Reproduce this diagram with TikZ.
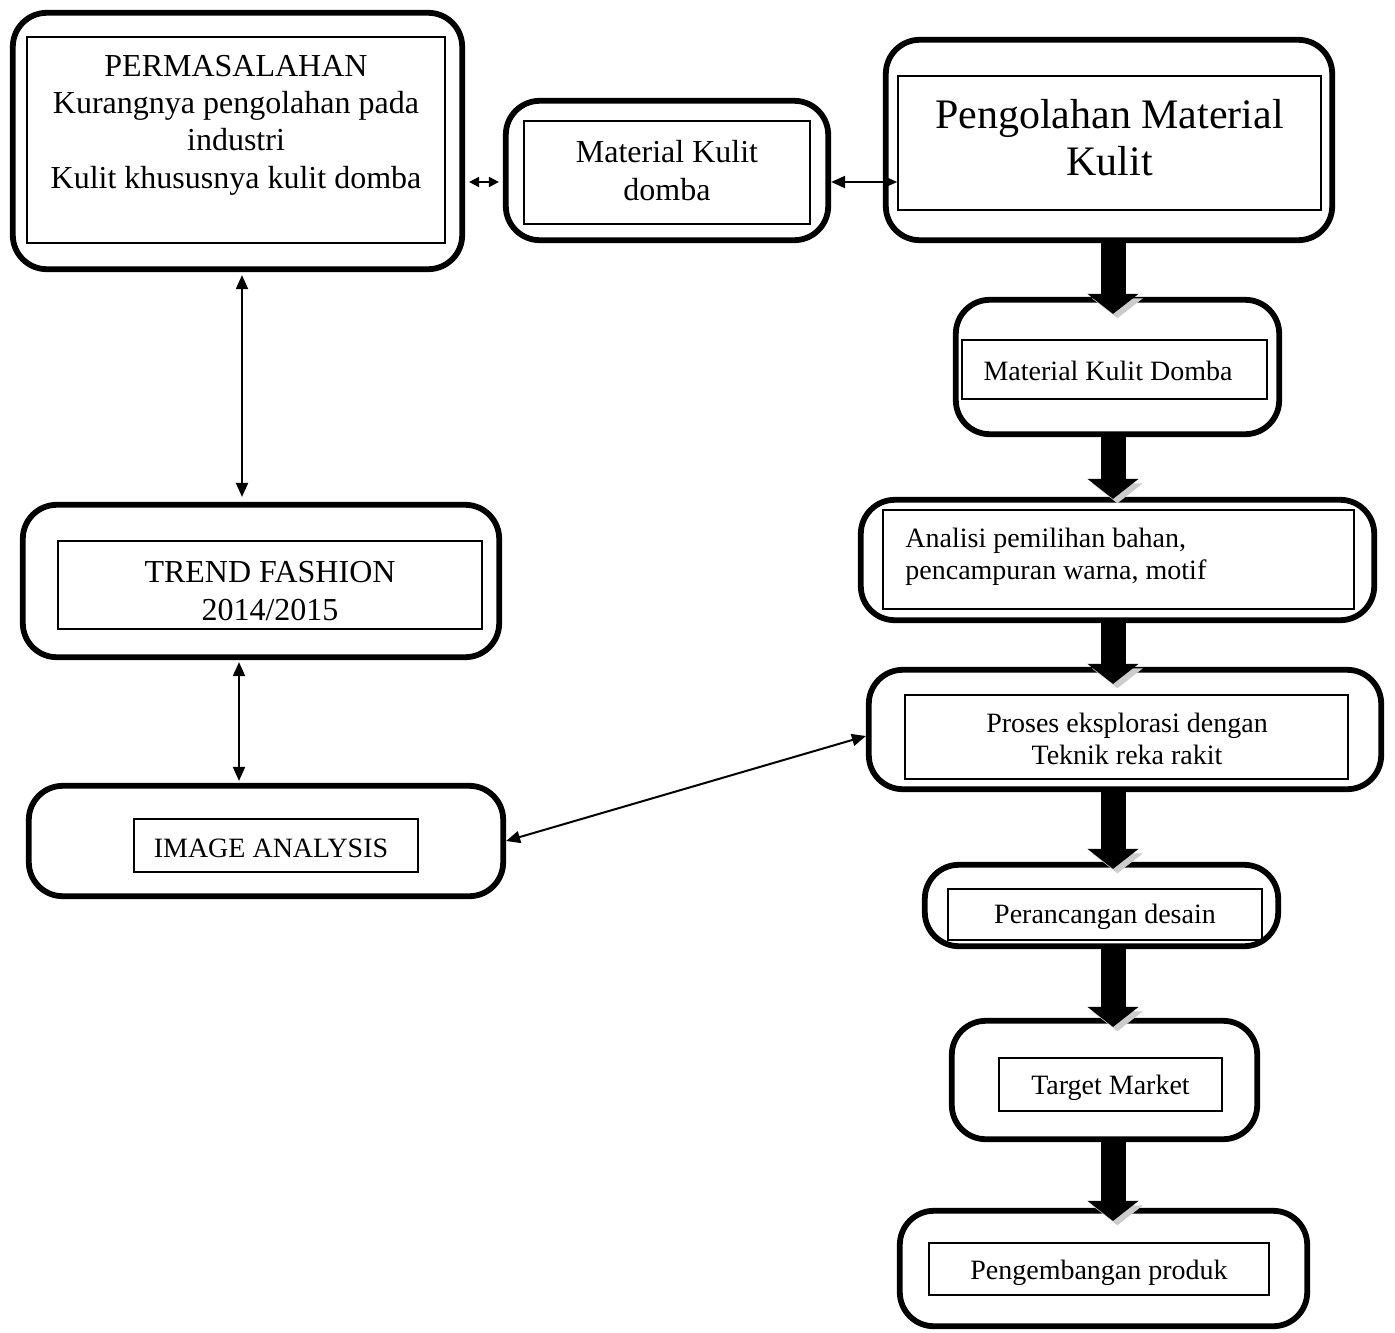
\documentclass[tikz,border=0pt]{standalone}
\usepackage{fontspec}
\setmainfont{Liberation Serif}
\usetikzlibrary{arrows.meta}

\tikzset{
  outerbox/.style={draw, line width=2.9pt, rounded corners=17pt},
  innerbox/.style={draw, line width=0.8pt, inner sep=0pt},
  bigtxt/.style={font=\fontsize{16}{18.7}\selectfont, align=center},
  smalltxt/.style={font=\fontsize{14}{16}\selectfont, align=center},
  link/.style={line width=1pt, {Triangle[length=7pt,width=6pt]}-{Triangle[length=7pt,width=6pt]}},
  blockarrow/.style={line width=12.5pt, -{Triangle[length=10pt,width=25pt]},
    preaction={draw=gray!40, transform canvas={shift={(2.2pt,-2.2pt)}}}}
}

\begin{document}
\begin{tikzpicture}[x=0.5pt,y=-0.5pt]
\useasboundingbox (0,0) rectangle (1395,1332);

% left column
\node[outerbox, minimum width=224.7pt, minimum height=128.2pt] (perm) at (237.5,141) {};
\node[innerbox, minimum width=209pt, minimum height=103pt] (permin) at (236,140) {};
\node[bigtxt] (permtxt) at (236,125) {PERMASALAHAN\\Kurangnya pengolahan pada\\industri\\Kulit khususnya kulit domba};

\node[outerbox, minimum width=238.2pt, minimum height=76.2pt] (trend) at (261,581) {};
\node[innerbox, minimum width=212pt, minimum height=44pt] (trendin) at (270,585) {};
\node[bigtxt] (trendtxt) at (270,591) {TREND FASHION\\2014/2015};

\node[outerbox, minimum width=237.2pt, minimum height=55.2pt] (image) at (266,841) {};
\node[innerbox, minimum width=142pt, minimum height=26.5pt] (imagein) at (276,845.5) {};
\node[smalltxt] (imagetxt) at (271,848) {IMAGE ANALYSIS};

% top middle
\node[outerbox, minimum width=161.2pt, minimum height=69.7pt] (mat1) at (667,170.5) {};
\node[innerbox, minimum width=143pt, minimum height=51.5pt] (mat1in) at (667,172.5) {};
\node[bigtxt] (mat1txt) at (667,170.5) {Material Kulit\\domba};

% right column
\node[outerbox, minimum width=223.2pt, minimum height=100.2pt] (peng) at (1109,140) {};
\node[innerbox, minimum width=211.5pt, minimum height=67pt] (pengin) at (1109.5,143) {};
\node[font=\fontsize{21}{23.5}\selectfont, align=center] (pengtxt) at (1109.5,138) {Pengolahan Material\\Kulit};

\node[outerbox, minimum width=161.7pt, minimum height=67.2pt] (mat2) at (1117.5,367) {};
\node[innerbox, minimum width=152.5pt, minimum height=29.5pt] (mat2in) at (1114.5,369.5) {};
\node[smalltxt] (mat2txt) at (1108,371) {Material Kulit Domba};

\node[outerbox, minimum width=256.7pt, minimum height=60.2pt] (analisi) at (1117.5,560) {};
\node[innerbox, minimum width=235.5pt, minimum height=49.5pt] (analisiin) at (1118.5,559.5) {};
\node[smalltxt, align=left, anchor=west, inner sep=0pt] (analisitxt) at (905,557) {Analisi pemilihan bahan,\\pencampuran warna, motif};

\node[outerbox, minimum width=256.2pt, minimum height=59.7pt] (proses) at (1125,729.5) {};
\node[innerbox, minimum width=221.5pt, minimum height=42pt] (prosesin) at (1126.5,737) {};
\node[smalltxt] (prosestxt) at (1127,739) {Proses eksplorasi dengan\\Teknik reka rakit};

\node[outerbox, minimum width=176.7pt, minimum height=40.7pt] (peranc) at (1101.5,905.5) {};
\node[innerbox, minimum width=157pt, minimum height=25.5pt] (perancin) at (1105,914.5) {};
\node[smalltxt] (peranctxt) at (1105,917) {Perancangan desain};

\node[outerbox, minimum width=152.7pt, minimum height=59.2pt] (target) at (1104.5,1080) {};
\node[innerbox, minimum width=111.5pt, minimum height=26.5pt] (targetin) at (1110.5,1084.5) {};
\node[smalltxt] (targettxt) at (1110.5,1087.5) {Target Market};

\node[outerbox, minimum width=203.7pt, minimum height=57.7pt] (pengem) at (1103.5,1268.5) {};
\node[innerbox, minimum width=170pt, minimum height=26pt] (pengemin) at (1099,1269) {};
\node[smalltxt] (pengemtxt) at (1099,1272.5) {Pengembangan produk};

% thin links
\draw[line width=1pt, {Triangle[length=5pt,width=5pt]}-{Triangle[length=5pt,width=5pt]}, shorten <=2pt, shorten >=2pt]
  ([yshift=-20.5pt]perm.east) -- ([yshift=-5.75pt]mat1.west);
\draw[link] ([yshift=-5.75pt]mat1.east) -- ([yshift=-19.5pt]pengin.west);
\coordinate (permfoot) at ([xshift=2.25pt]perm.south);
\draw[link, shorten <=1.5pt, shorten >=2.5pt] (permfoot) -- (permfoot |- trend.north);
\coordinate (trendfoot) at ([xshift=-11pt]trend.south);
\draw[link, shorten <=1pt, shorten >=1pt] (trendfoot) -- (trendfoot |- image.north);
\draw[link] (image.east) -- ([yshift=-3.25pt]proses.west);

% block arrows
\coordinate (spine) at (1113,0);
\draw[blockarrow] (peng.south -| spine) -- ([yshift=-8.5pt]mat2.north -| spine);
\draw[blockarrow] (mat2.south -| spine) -- ([yshift=-1pt]analisi.north -| spine);
\draw[blockarrow] (analisi.south -| spine) -- ([yshift=-8.5pt]proses.north -| spine);
\draw[blockarrow] (proses.south -| spine) -- ([yshift=-3.5pt]peranc.north -| spine);
\draw[blockarrow] (peranc.south -| spine) -- ([yshift=-4.5pt]target.north -| spine);
\draw[blockarrow] (target.south -| spine) -- ([yshift=-6.5pt]pengem.north -| spine);
\end{tikzpicture}
\end{document}
